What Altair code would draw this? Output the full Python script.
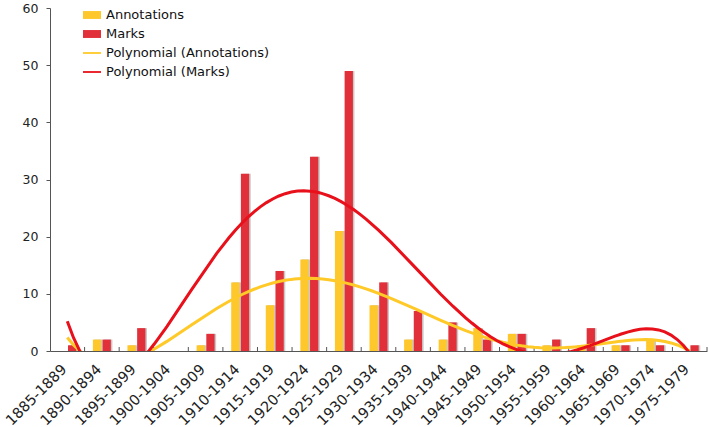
import altair as alt
import pandas as pd

labels = ["1885-1889", "1890-1894", "1895-1899", "1900-1904", "1905-1909",
          "1910-1914", "1915-1919", "1920-1924", "1925-1929", "1930-1934",
          "1935-1939", "1940-1944", "1945-1949", "1950-1954", "1955-1959",
          "1960-1964", "1965-1969", "1970-1974", "1975-1979"]
annotations = [0, 2, 1, 0, 1, 12, 8, 16, 21, 8, 2, 2, 4, 3, 1, 1, 1, 2, 0]
marks = [1, 2, 4, 0, 3, 31, 14, 34, 49, 12, 7, 5, 2, 3, 2, 4, 1, 1, 1]
y_ticks = [0, 10, 20, 30, 40, 50, 60]

names = ["Annotations", "Marks", "Polynomial (Annotations)", "Polynomial (Marks)"]
colors = ["#FEC82C", "#E1303A", "#FFC928", "#E8101A"]
shapes = ["M-1,-0.44H1V0.44H-1Z", "M-1,-0.44H1V0.44H-1Z",
          "M-1,-0.1H1V0.1H-1Z", "M-1,-0.1H1V0.1H-1Z"]

rows = []
for i, lab in enumerate(labels):
    rows.append({"idx": i, "label": lab, "series": "Annotations", "val": annotations[i]})
    rows.append({"idx": i, "label": lab, "series": "Marks", "val": marks[i]})
df = pd.DataFrame(rows)

FONT = "DejaVu Sans"
AX = "#555555"

color_scale = alt.Scale(domain=names, range=colors)
shape_scale = alt.Scale(domain=names, range=shapes)
xscale = alt.Scale(domain=[-0.5, len(labels) - 0.5], nice=False, zero=False)
yscale = alt.Scale(domain=[0, 60], nice=False)

label_arr = "[" + ",".join("'" + l + "'" for l in labels) + "]"
xaxis = alt.Axis(values=list(range(len(labels))), labelExpr=label_arr + "[datum.value]",
                 tickSize=0, grid=False, title=None, labelAngle=-45, labelAlign="right",
                 labelBaseline="middle", labelPadding=16, labelOffset=-3, labelFontSize=14.5,
                 labelFont=FONT, labelColor="#222222", labelOverlap=False, labelFlush=False,
                 domainColor=AX, domainWidth=1)
yaxis = alt.Axis(values=y_ticks, tickSize=4, grid=False, title=None, labelPadding=8,
                 labelFontSize=12.5, labelFont=FONT, labelColor="#222222",
                 domainColor=AX, tickColor=AX)

leg = alt.Legend(orient="none", legendX=33, legendY=-2, title=None, symbolSize=324,
                 symbolStrokeWidth=0, labelFontSize=13, labelFont=FONT, labelColor="#111111",
                 rowPadding=3, padding=0, labelOffset=5, labelLimit=400)

base = alt.Chart(df)

bars_base = base.transform_calculate(
    x1="datum.idx + (datum.series == 'Annotations' ? -0.26 : 0.02)",
    x2="datum.idx + (datum.series == 'Annotations' ? -0.02 : 0.26)",
    sx1="datum.idx + (datum.series == 'Annotations' ? -0.215 : 0.065)",
    sx2="datum.idx + (datum.series == 'Annotations' ? 0.025 : 0.305)",
)

shadow = bars_base.mark_bar(color="#C9C9C9").encode(
    x=alt.X("sx1:Q", scale=xscale, axis=xaxis),
    x2="sx2:Q",
    y=alt.Y("val:Q", scale=yscale, axis=yaxis),
    y2=alt.datum(0),
)

bars = bars_base.mark_bar().encode(
    x=alt.X("x1:Q", scale=xscale, axis=xaxis),
    x2="x2:Q",
    y=alt.Y("val:Q", scale=yscale, axis=yaxis),
    y2=alt.datum(0),
    color=alt.Color("series:N", scale=color_scale, legend=leg),
)

ticks = base.transform_filter("datum.series == 'Marks'").transform_calculate(
    b="datum.idx + 0.5"
).mark_rule(color=AX, strokeWidth=1).encode(
    x=alt.X("b:Q", scale=xscale, axis=xaxis),
    y=alt.value(343),
    y2=alt.value(339),
)

lines = base.transform_regression(
    "idx", "val", groupby=["series"], method="poly", order=5, extent=[0, len(labels) - 1]
).transform_calculate(
    name="'Polynomial (' + datum.series + ')'"
).mark_line(clip=True, strokeWidth=3).encode(
    x=alt.X("idx:Q", scale=xscale, axis=xaxis),
    y=alt.Y("val:Q", scale=yscale, axis=yaxis),
    color=alt.Color("name:N", scale=color_scale, legend=leg),
)

legend_layer = alt.Chart(pd.DataFrame({"name": names})).transform_filter("false").mark_point(
    filled=True, opacity=1, strokeWidth=0
).encode(
    color=alt.Color("name:N", scale=color_scale, legend=leg),
    shape=alt.Shape("name:N", scale=shape_scale, legend=leg),
)

chart = alt.layer(shadow, bars, ticks, lines, legend_layer).properties(
    width=657, height=343,
    padding={"left": 50, "top": 8, "right": 2, "bottom": 76},
    autosize="none",
).configure_view(stroke=None)

chart.save("out.html", embed_options={"renderer": "svg", "actions": False})
